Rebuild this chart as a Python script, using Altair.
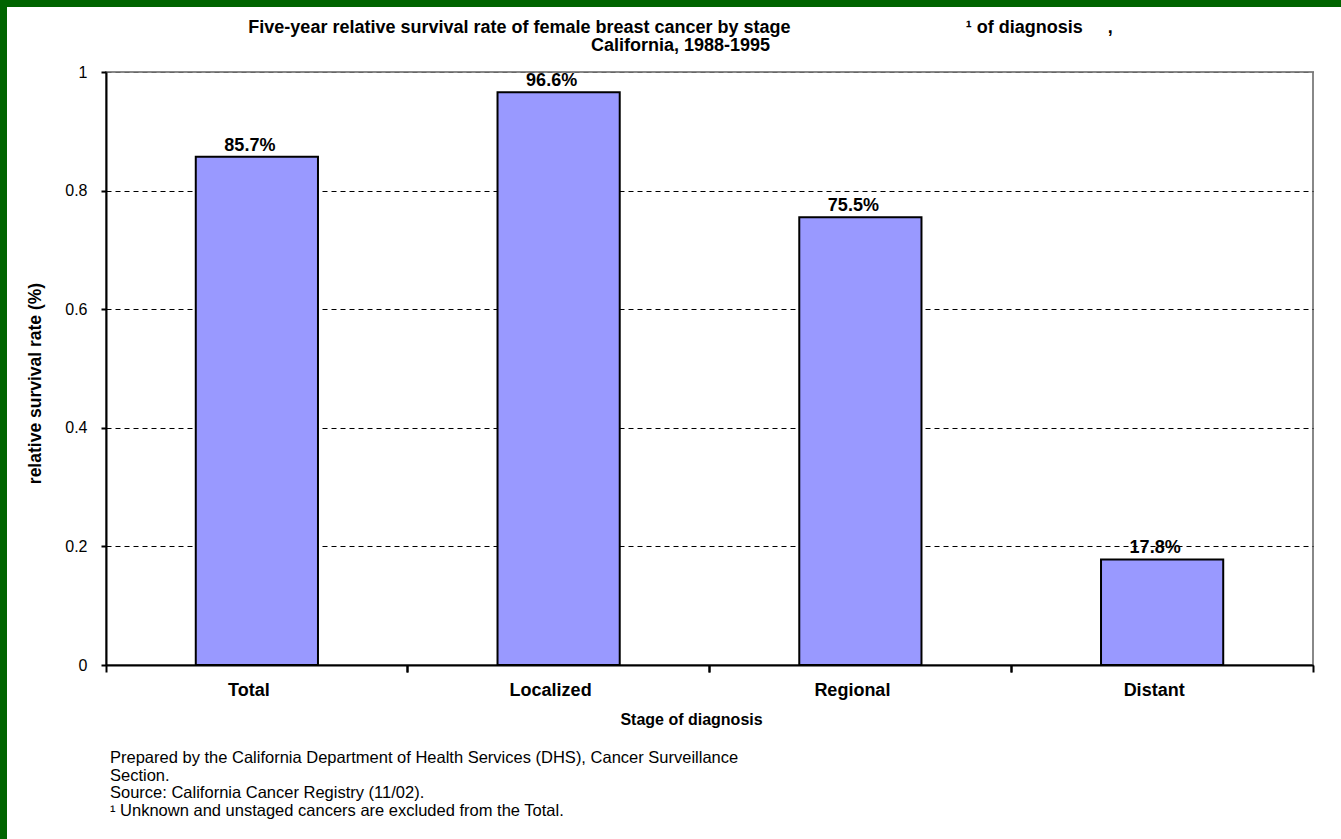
import altair as alt
import pandas as pd

# ---- data ----
stages = ["Total", "Localized", "Regional", "Distant"]
rates = [0.857, 0.966, 0.755, 0.178]
y_ticks = [0, 0.2, 0.4, 0.6, 0.8, 1.0]

title_lines = [
    "Five-year relative survival rate of female breast cancer by stage"
    + "\u00a0" * 35 + "\u00b9 of diagnosis" + "\u00a0" * 5 + ",",
    "California, 1988-1995",
]
footnote_lines = [
    "Prepared by the California Department of Health Services (DHS), Cancer Surveillance",
    "Section.",
    "Source: California Cancer Registry (11/02).",
    "\u00b9 Unknown and unstaged cancers are excluded from the Total.",
]

df = pd.DataFrame({"stage": stages, "rate": rates})

W, H = 1207, 593
PAD = {"left": 106, "top": 72, "right": 28, "bottom": 174}
FONT = "Liberation Sans, Arial, sans-serif"

xscale = alt.Scale(paddingInner=0, paddingOuter=0)
yscale = alt.Scale(domain=[0, 1], nice=False, zero=True)

base = alt.Chart(df)

bars = base.mark_bar(
    color="#9999FF", stroke="black", strokeWidth=2,
    width=alt.RelativeBandSize(0.405),
).encode(
    x=alt.X("stage:N", sort=stages, scale=xscale,
            axis=alt.Axis(orient="bottom", title="Stage of diagnosis", labelAngle=0,
                          ticks=False, tickSize=0, domain=True, domainColor="black",
                          domainWidth=2, labelFont=FONT, labelFontSize=18,
                          labelFontWeight="bold", labelColor="black", labelPadding=16,
                          labelOffset=-8,
                          titleFont=FONT, titleFontSize=16, titleFontWeight="bold",
                          titleColor="black", titlePadding=12, titleX=585,
                          grid=False)),
    y=alt.Y("rate:Q", scale=yscale,
            axis=alt.Axis(values=y_ticks, format="~g", title="relative survival rate (%)",
                          grid=True,
                          gridColor=alt.condition("datum.value >= 1", alt.value("#666666"),
                                                  alt.value("black")),
                          gridDash=[5, 4], gridWidth=1,
                          domainColor="black", domainWidth=2, tickColor="black",
                          tickWidth=2, tickSize=5, labelFont=FONT, labelFontSize=16,
                          labelColor="black", labelPadding=14,
                          titleFont=FONT, titleFontSize=17.5, titleFontWeight="bold",
                          titleColor="black", titlePadding=20, titleY=311)),
)

labels = base.mark_text(
    baseline="bottom", dy=-2, dx=-7, font=FONT, fontSize=18, fontWeight="bold", color="black"
).encode(
    x=alt.X("stage:N", sort=stages, scale=xscale, axis=None),
    y=alt.Y("rate:Q", scale=yscale),
    text=alt.Text("rate:Q", format=".1%"),
)


def boundary(pos):
    return base.mark_bar(opacity=0).encode(
        x=alt.X("stage:N", sort=stages, scale=xscale,
                axis=alt.Axis(orient="bottom", bandPosition=pos, labels=False, ticks=True,
                              tickSize=7, tickWidth=2, tickColor="black", domain=False,
                              title=None, grid=False)),
        y=alt.Y("rate:Q", scale=yscale),
    )


foot = alt.Chart(pd.DataFrame({"t": ["\n".join(footnote_lines)]})).mark_text(
    align="left", baseline="top", font=FONT, fontSize=16.5, color="black",
    lineBreak="\n", lineHeight=17.5,
).encode(x=alt.value(4), y=alt.value(678), text="t:N")

frame = alt.Chart(pd.DataFrame({"a": [0]})).mark_rect(
    filled=False, stroke="#006400", strokeWidth=14
).encode(x=alt.value(-106), x2=alt.value(W + 200), y=alt.value(-72), y2=alt.value(H + 300))

chart = alt.layer(bars, boundary(0), boundary(1), labels, foot, frame).resolve_axis(
    x="independent"
).properties(
    width=W, height=H,
    padding=PAD,
    autosize=alt.AutoSizeParams(type="none"),
    background="white",
    title=alt.TitleParams(title_lines, font=FONT, fontSize=18, fontWeight="bold",
                          color="black", anchor="middle", frame="group", offset=-62,
                          lineHeight=18, dx=-29),
).configure_view(stroke="#888888", strokeWidth=2)

chart.save("out.html", embed_options={"renderer": "svg", "actions": False})
